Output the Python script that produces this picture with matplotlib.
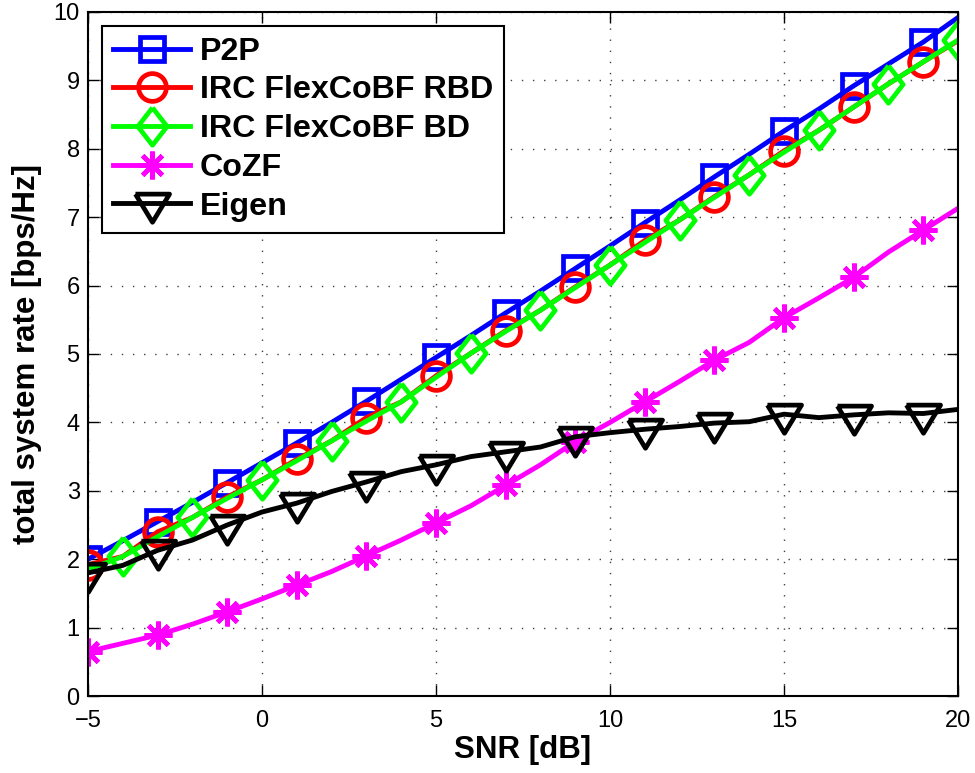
import numpy as np
import matplotlib
matplotlib.use('Agg')
import matplotlib.pyplot as plt

# SNR grid, rates in bps/Hz
snr = [-5, -4, -3, -2, -1, 0, 1, 2, 3, 4, 5, 6, 7, 8, 9, 10, 11, 12, 13, 14, 15, 16, 17, 18, 19, 20]

p2p = [2.00, 2.27, 2.55, 2.83, 3.12, 3.41, 3.70, 4.00, 4.31, 4.63, 4.95, 5.27, 5.60,
       5.92, 6.25, 6.58, 6.92, 7.25, 7.59, 7.92, 8.26, 8.58, 8.92, 9.24, 9.56, 9.92]
rbd = [1.92, 2.04, 2.40, 2.61, 2.91, 3.16, 3.46, 3.73, 4.07, 4.30, 4.68, 5.01, 5.34,
       5.64, 5.98, 6.30, 6.66, 6.96, 7.30, 7.62, 7.97, 8.27, 8.61, 8.95, 9.27, 9.58]
bd = [1.85, 2.04, 2.33, 2.61, 2.89, 3.16, 3.44, 3.73, 4.02, 4.30, 4.66, 5.01, 5.33,
      5.64, 5.97, 6.30, 6.63, 6.96, 7.29, 7.62, 7.95, 8.27, 8.61, 8.95, 9.27, 9.59]
cozf = [0.65, 0.77, 0.89, 1.05, 1.23, 1.42, 1.62, 1.82, 2.05, 2.28, 2.53, 2.78, 3.08,
        3.38, 3.72, 4.00, 4.30, 4.60, 4.91, 5.17, 5.53, 5.82, 6.12, 6.49, 6.81, 7.13]
eigen = [1.80, 1.91, 2.13, 2.28, 2.50, 2.69, 2.82, 2.99, 3.13, 3.28, 3.38, 3.50, 3.57,
         3.64, 3.79, 3.85, 3.90, 3.94, 3.99, 4.01, 4.12, 4.07, 4.11, 4.14, 4.13, 4.19]

labels = ['P2P', 'IRC FlexCoBF RBD', 'IRC FlexCoBF BD', 'CoZF', 'Eigen']

plt.rcParams['font.family'] = 'Liberation Sans'
plt.rcParams['axes.unicode_minus'] = True

# matlab style markers: tall diamond, 8 arm asterisk, triangle centred on centroid
diamond = [(0, 1), (0.78, 0), (0, -1), (-0.78, 0), (0, 1)]
tri_down = [(-1, 0.55), (1, 0.55), (0, -1.1), (-1, 0.55)]
star8 = (8, 2, 0)

fig = plt.figure(figsize=(9.75, 7.73), dpi=100)
ax = fig.add_axes([0.0903, 0.0996, 0.8923, 0.8849])

lw = 3.5
ax.plot(snr, p2p, color=(0, 0, 1), lw=lw, marker='s', ms=17, mew=3.4, mfc='none',
        markevery=(0, 2), label=labels[0])
ax.plot(snr, rbd, color=(1, 0, 0), lw=lw, marker='o', ms=20, mew=3.4, mfc='none',
        markevery=(0, 2), label=labels[1])
ax.plot(snr, bd, color=(0, 1, 0), lw=lw, marker=diamond, ms=27, mew=3.4, mfc='none',
        markevery=(1, 2), label=labels[2])
ax.plot(snr, cozf, color=(1, 0, 1), lw=lw, marker=star8, ms=20, mew=3.4,
        markevery=(0, 2), label=labels[3])
ax.plot(snr, eigen, color='k', lw=lw, marker=tri_down, ms=27, mew=3.4, mfc='none',
        markevery=(0, 2), label=labels[4])

ax.set_xlim(-5, 20)
ax.set_ylim(0, 10)
ax.set_xticks(range(-5, 21, 5))
ax.set_yticks(range(0, 11))
ax.grid(True, color='0.25', linestyle=(0, (1, 7)), linewidth=1.0)
ax.tick_params(direction='in', length=8, width=1, labelsize=17, top=True, right=True)
ax.tick_params(axis='x', pad=10)
ax.tick_params(axis='y', pad=6)
for s in ax.spines.values():
    s.set_linewidth(1.5)

ax.set_xlabel('SNR [dB]', fontsize=22.5, fontweight='bold', labelpad=2)
ax.set_ylabel('total system rate [bps/Hz]', fontsize=22.5, fontweight='bold', labelpad=8)

leg = ax.legend(loc='upper left', bbox_to_anchor=(0.0, 1.0),
                prop={'weight': 'bold', 'size': 23.2}, handlelength=2.4,
                handletextpad=0.3, labelspacing=0.27, borderpad=0.35,
                borderaxespad=0.42, fancybox=False, framealpha=1)
leg.get_frame().set_edgecolor('k')
leg.get_frame().set_linewidth(1.5)

fig.savefig('out.png', dpi=100)
